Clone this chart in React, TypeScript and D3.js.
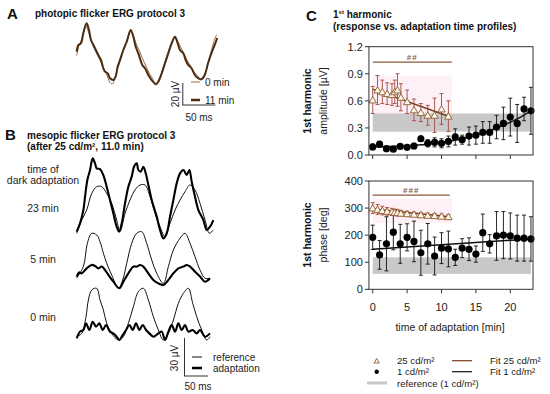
import React from "react";
import * as d3 from "d3";

const FONT = "'Liberation Sans', Arial, Helvetica, sans-serif";

// ---------------- Panel A: photopic flicker ERG (time ms, amplitude µV)
const traceA0min: [number, number][] = [
  [0, 4], [3, 12], [7, 18], [11, 27], [14, 31], [17, 27], [21, 19], [26, 11], [31, 5], [36, -1],
  [41, -8], [46, -14], [50, -20], [54, -22], [58, -16], [62, -8], [67, 1], [72, 11], [77, 19],
  [81, 26], [85, 23], [90, 15], [95, 8], [100, 1], [105, -6], [110, -12], [115, -17], [120, -23],
  [124, -20], [129, -11], [134, -1], [139, 8], [144, 16], [149, 20], [154, 16], [158, 11],
  [163, 5], [168, -1], [173, -6], [178, -11], [183, -14], [188, -18], [193, -15], [198, -5],
  [203, 6], [208, 17], [212, 23],
];
const traceA11min: [number, number][] = [
  [0, 7.5], [2.5, 13.6], [6.5, 15.2], [10, 24.3], [15, 33.4], [18.6, 27.3], [21.7, 18.2],
  [26.7, 12.1], [30.3, 7.5], [32.7, 4.5], [36.8, 0], [40.3, -7.5], [42.9, -10.6], [47, -12.1],
  [50.5, -16.6], [55.5, -18.2], [59, -15.2], [62, -6.1], [65.6, 0], [70.6, 9.1], [75.8, 16.6],
  [81.8, 27.3], [85.8, 21.2], [89.4, 12.1], [93.3, 6.1], [95.9, 1.5], [99.4, -4.5], [103.5, -7.5],
  [108.5, -13.6], [113.6, -18.2], [119.7, -21.8], [123.6, -19.7], [128.8, -12.1], [133.8, -3],
  [138.8, 6.1], [143.9, 15.2], [148.9, 21.2], [153, 15.2], [156.5, 9.1], [161.5, 6.1], [165, 0],
  [169, -4.5], [174, -7.5], [179, -13.6], [184, -16.6], [189, -17.5], [194, -13.6], [199, -3],
  [204, 6.1], [209, 13.6], [213, 20],
];

// ---------------- Panel B: mesopic flicker ERG (time ms, amplitude µV)
const b23Reference: [number, number][] = [
  [0, -1], [10.4, 9.4], [20.8, 17.3], [31.3, 30.4], [41.7, 35.7], [52.1, 35.7], [62.5, 30.4],
  [72.9, 22.6], [83.3, 9.4], [90.3, 0.3], [100.7, 14.7], [111.1, 25.2], [121.5, 33.1],
  [131.9, 37], [142.4, 37], [152.8, 27.8], [163.2, 14.7], [173.6, 4.2], [184, -3.7],
  [194.4, 6.8], [204.9, 17.3], [215.3, 25.2], [225.7, 31.8], [236.1, 37], [246.5, 33.1],
  [256.9, 22.6], [267.4, 9.4], [276.4, -1], [284.7, 1.6],
];
const b23Adaptation: [number, number][] = [
  [0, 0.3], [6.9, 6.8], [13.9, 17.3], [17.4, 27.8], [22.2, 40.9], [27.8, 48.8], [33.3, 58],
  [38.2, 54], [41.7, 50.1], [48.6, 49.5], [55.4, 44.9], [62.5, 35.7], [69.4, 25.2], [76.3, 14.7],
  [83.3, 4.2], [88.2, 0.3], [93.8, 6.8], [100.7, 22.6], [107.6, 35.7], [114.6, 43.6],
  [119.4, 51.4], [125, 54.1], [128.5, 48.8], [133.3, 47.5], [138.9, 51.4], [143.8, 46.2],
  [149.3, 37], [156.3, 25.2], [166.7, 12.1], [173.6, 1.6], [180.6, -5], [187.5, -1],
  [194.4, 12.1], [201.4, 25.2], [208.3, 38.3], [215.3, 46.2], [222.2, 48.8], [229.2, 44.9],
  [234.7, 48.8], [239.6, 39.6], [246.5, 27.8], [253.5, 17.3], [263.9, 9.4], [270.8, 1.6],
  [277.8, 4.2], [284.7, 9.4],
];
const b5Reference: [number, number][] = [
  [0, 8], [13.9, 17.1], [22.2, 35.4], [31.3, 43.3], [41.7, 42], [48.6, 36.7], [55.6, 27.6],
  [62.5, 19.7], [72.9, 10.5], [86.8, 0], [95.8, 6.6], [104.2, 19.7], [114.6, 35.4], [125, 43.3],
  [135.4, 44.6], [145.8, 35.4], [156.3, 22.3], [166.7, 11.8], [180.6, 3.9], [191, 17.1],
  [201.4, 30.2], [215.3, 39.4], [225.7, 43.3], [236.1, 35.4], [246.5, 24.9], [256.9, 14.4],
  [267.4, 7.9], [277.8, 7.9],
];
const b5Adaptation: [number, number][] = [
  [0, 9.2], [5, 12.5], [10.4, 11.8], [20.8, 15.7], [31.3, 18.4], [38.2, 17.6], [45.1, 15.7],
  [52.1, 17.1], [59, 14.4], [66, 10.5], [76.4, 5.2], [88.9, 0], [97.2, 5.2], [107.6, 11.8],
  [118.1, 17.1], [125, 17.1], [131.9, 18.4], [138.9, 17.1], [149.3, 11.8], [159.7, 6.6],
  [170.1, 3.9], [180.6, 2.6], [191, 6.6], [201.4, 11.8], [211.8, 15.7], [222.2, 17.1],
  [229.2, 18.4], [236.1, 17.1], [246.5, 13.1], [256.9, 9.2], [267.4, 5.2], [277.8, 7.9],
];
const b0Reference: [number, number][] = [
  [0, 2.6], [10.4, 5.2], [19.4, 18.4], [24.3, 31.5], [31.3, 39.4], [41.7, 40.7], [48.6, 31.5],
  [55.6, 23.6], [62.5, 13.1], [72.9, 5.2], [86.8, 0], [97.2, 2.6], [107.6, 13.1], [118.1, 26.2],
  [128.5, 38.1], [138.9, 40.7], [149.3, 31.5], [159.7, 18.4], [170.1, 7.9], [180.6, 0],
  [191, 5.2], [201.4, 15.7], [211.8, 28.9], [222.2, 36.7], [232.6, 40.7], [241.7, 28.9],
  [250, 18.4], [260.4, 7.9], [270.8, 0], [277.8, 2.6],
];
const b0Adaptation: [number, number][] = [
  [0, 1.3], [6.9, 6.6], [13.9, 7.9], [19.4, 13.1], [26.4, 7.9], [33.3, 14.4], [40.3, 10.5],
  [47.2, 13.1], [54.2, 7.9], [61.1, 11.8], [69.4, 6.6], [76.4, 5.2], [83.3, 2.6], [88.9, 0],
  [95.8, 3.9], [102.8, 7.9], [109.7, 11.8], [116.7, 7.9], [123.6, 13.1], [130.6, 7.9],
  [137.5, 11.8], [144.4, 7.9], [151.4, 5.2], [159.7, 2.6], [170.1, 5.2], [177.1, 6.6], [184, 0],
  [191, 6.6], [197.9, 11.8], [204.9, 6.6], [211.8, 13.1], [218.8, 7.9], [225.7, 11.8],
  [232.6, 6.6], [241.7, 7.9], [250, 5.2], [256.9, 7.9], [267.4, 2.6], [277.8, 5.2],
];
const groupLabelsB = ["23 min", "5 min", "0 min"];

// ---------------- Panel C: 1st harmonic
const time25 = [0, 0.7, 1.4, 2.1, 2.8, 3.2, 3.6, 4.1, 5, 6, 7, 8, 9, 10, 11];
const amp25 = [0.61, 0.72, 0.70, 0.68, 0.67, 0.70, 0.72, 0.64, 0.59, 0.50, 0.47, 0.44, 0.44, 0.51, 0.43];
const amp25Sd = [0.15, 0.16, 0.13, 0.12, 0.12, 0.13, 0.18, 0.15, 0.13, 0.12, 0.10, 0.11, 0.19, 0.17, 0.17];
const phase25 = [300, 295, 291, 288, 286, 284, 283, 281, 279, 277, 275, 273, 272, 270, 268];
const phase25Sd = [20, 18, 16, 14, 13, 12, 12, 10, 9, 8, 8, 8, 8, 8, 8];

const time1 = [0, 1, 2, 3, 4, 5, 6, 7, 8, 9, 10, 11, 12, 13, 14, 15, 16, 17, 18, 19, 20, 21, 22, 23];
const amp1 = [0.09, 0.12, 0.07, 0.065, 0.095, 0.085, 0.10, 0.18, 0.13, 0.14, 0.13, 0.15, 0.20, 0.17,
  0.21, 0.22, 0.25, 0.25, 0.31, 0.35, 0.42, 0.35, 0.51, 0.49];
const amp1Sd = [0.03, 0.03, 0.02, 0.02, 0.02, 0.02, 0.03, 0.03, 0.04, 0.05, 0.05, 0.06, 0.09, 0.05,
  0.10, 0.10, 0.12, 0.12, 0.13, 0.18, 0.21, 0.21, 0.13, 0.26];
const phase1 = [192, 127, 168, 211, 168, 192, 177, 135, 168, 123, 152, 149, 118, 152, 148, 130, 209,
  168, 197, 200, 197, 189, 189, 186];
const phase1Sd = [45, 53, 100, 65, 72, 50, 75, 83, 75, 70, 57, 66, 30, 35, 42, 30, 69, 34, 90, 87,
  85, 85, 85, 82];

const fitAmp25: [number, number][] = [[0, 0.73], [11, 0.43]];
const fitAmp1: [number, number][] = [[0, 0.09], [4, 0.1], [8, 0.12], [11, 0.15], [14, 0.2],
  [17, 0.27], [19, 0.33], [21, 0.4], [23, 0.49]];
const fitPhase25: [number, number][] = [[0, 297], [11.2, 268]];
const fitPhase1: [number, number][] = [[0, 148], [23, 186]];

const refAmp = [0.26, 0.46];
const refPhase = [57, 118];
const ampTicks = [0, 0.3, 0.6, 0.9, 1.2];
const phaseTicks = [0, 100, 200, 300, 400];
const timeTicks = [0, 5, 10, 15, 20];
const sigAmp = { from: 0, to: 11.5, level: 1.03, label: "##" };
const sigPhase = { from: 0, to: 11.2, level: 348, label: "###" };

const C_TRI_STROKE = "#8c5a2e";
const C_TRI_ERR = "#a54a3c";
const C_FIT25 = "#7a3a1c";
const C_SIG = "#8b5a3c";
const C_REF = "#c8c8c8";
const C_PINK = "#fbe4ee";

export default function App() {
  // ---- Panel A scales
  const xA = d3.scaleLinear().domain([0, 50]).range([76.7, 109.7]);
  const yA = d3.scaleLinear().domain([0, 20]).range([60, 38]);
  const lineA = d3.line<[number, number]>().x(d => xA(d[0])).y(d => yA(d[1])).curve(d3.curveCatmullRom);

  // ---- Panel B scales
  const xB = d3.scaleLinear().domain([0, 50]).range([76.7, 100.7]);
  const baseB = [232, 288.3, 340];
  const yBs = baseB.map(b => d3.scaleLinear().domain([0, 30]).range([b, b - 38.1]));
  const lineB = (ys: d3.ScaleLinear<number, number>) =>
    d3.line<[number, number]>().x(d => xB(d[0])).y(d => ys(d[1])).curve(d3.curveCatmullRom);
  const groupsB = [
    [b23Reference, b23Adaptation],
    [b5Reference, b5Adaptation],
    [b0Reference, b0Adaptation],
  ];
  const labelYB = [212, 263, 321];

  // ---- Panel C scales
  const xC = d3.scaleLinear().domain([0, 20]).range([372.7, 510.3]);
  const yAmp = d3.scaleLinear().domain([0, 1.2]).range([155, 46.7]);
  const yPh = d3.scaleLinear().domain([0, 400]).range([289.3, 181]);
  const left = xC(-0.55);
  const right = xC(23.3);

  const tri = d3.symbol(d3.symbolTriangle, 24)()!;
  const triLegend = d3.symbol(d3.symbolTriangle, 12)()!;

  const errBars = (xs: number[], vs: number[], sds: number[], ys: d3.ScaleLinear<number, number>, color: string, key: string) =>
    xs.map((t, i) => {
      const x = xC(t);
      const y1 = ys(Math.max(0, vs[i] - sds[i]));
      const y2 = ys(vs[i] + sds[i]);
      return (
        <g key={key + i} stroke={color} strokeWidth={0.9}>
          <line x1={x} x2={x} y1={y1} y2={y2} />
          <line x1={x - 2} x2={x + 2} y1={y1} y2={y1} />
          <line x1={x - 2} x2={x + 2} y1={y2} y2={y2} />
        </g>
      );
    });

  const fitLine = (ys: d3.ScaleLinear<number, number>, curve = d3.curveLinear) =>
    d3.line<[number, number]>().x(d => xC(d[0])).y(d => ys(d[1])).curve(curve);

  const plotC = (
    key: string,
    ys: d3.ScaleLinear<number, number>,
    ticks: number[],
    fmt: (v: number) => string,
    v25: number[], sd25: number[], v1: number[], sd1: number[],
    fit25: [number, number][], fit1: [number, number][], fit1Curve: d3.CurveFactory,
    ref: number[], pink: number[], sig: { from: number; to: number; level: number; label: string },
    showXLabels: boolean,
    titleLabel: string,
    centerY: number
  ) => {
    const top = ys(ys.domain()[1]);
    const bottom = ys(ys.domain()[0]);
    return (
      <g key={key}>
        <rect x={xC(0)} y={ys(pink[1])} width={xC(11.5) - xC(0)} height={ys(pink[0]) - ys(pink[1])} fill={C_PINK} opacity={0.55} />
        <rect x={xC(0)} y={ys(ref[1])} width={xC(23) - xC(0)} height={ys(ref[0]) - ys(ref[1])} fill={C_REF} />
        <line x1={xC(sig.from)} x2={xC(sig.to)} y1={ys(sig.level)} y2={ys(sig.level)} stroke={C_SIG} strokeWidth={1.3} />
        <text x={xC((sig.from + sig.to) / 2)} y={ys(sig.level) - 2.5} fontSize={8} fontWeight="bold" fill={C_SIG} textAnchor="middle" letterSpacing={1}>{sig.label}</text>
        {errBars(time1, v1, sd1, ys, "#111", key + "e1")}
        <path d={fitLine(ys, fit1Curve)(fit1)!} fill="none" stroke="#111" strokeWidth={1.5} />
        {time1.map((t, i) => <circle key={key + "c" + i} cx={xC(t)} cy={ys(v1[i])} r={3.6} fill="#000" />)}
        {errBars(time25, v25, sd25, ys, C_TRI_ERR, key + "e25")}
        <path d={fitLine(ys)(fit25)!} fill="none" stroke={C_FIT25} strokeWidth={1.5} />
        {time25.map((t, i) => (
          <path key={key + "t" + i} d={tri} transform={`translate(${xC(t)},${ys(v25[i]) + 0.8})`} fill="#fff8ec" stroke={C_TRI_STROKE} strokeWidth={0.9} />
        ))}
        <rect x={left} y={top} width={right - left} height={bottom - top} fill="none" stroke="#333" strokeWidth={1} />
        {ticks.map(v => (
          <g key={key + "yt" + v}>
            <line x1={left - 4} x2={left} y1={ys(v)} y2={ys(v)} stroke="#333" />
            <text x={left - 6} y={ys(v) + 4} fontSize={11} textAnchor="end" fill="#222">{fmt(v)}</text>
          </g>
        ))}
        {timeTicks.map(t => (
          <g key={key + "xt" + t}>
            <line x1={xC(t)} x2={xC(t)} y1={bottom} y2={bottom + 4} stroke="#333" />
            {showXLabels && <text x={xC(t)} y={bottom + 21.5} fontSize={11} textAnchor="middle" fill="#222">{t}</text>}
          </g>
        ))}
        <text transform={`translate(311,${centerY}) rotate(-90)`} fontSize={10.5} fontWeight="bold" textAnchor="middle" fill="#111">1st harmonic</text>
        <text transform={`translate(327,${centerY}) rotate(-90)`} fontSize={10.5} textAnchor="middle" fill="#222">{titleLabel}</text>
      </g>
    );
  };

  return (
    <svg width={550} height={394} style={{ position: "absolute", left: 0, top: 0, background: "#fff" }} fontFamily={FONT}>
      {/* ---------- Panel A ---------- */}
      <text x={7} y={18.5} fontSize={15} fontWeight="bold" fill="#111">A</text>
      <text x={35} y={16.5} fontSize={10} fontWeight="bold" fill="#111">photopic flicker ERG protocol 3</text>
      <path d={lineA(traceA0min)!} fill="none" stroke="#9a6a44" strokeWidth={1} />
      <path d={lineA(traceA11min)!} fill="none" stroke="#4a2c12" strokeWidth={2} />
      {/* scale bar A */}
      <line x1={xA(160) + 0.5} x2={xA(160) + 0.5} y1={yA(0) + 23} y2={yA(0) + 45} stroke="#333" />
      <line x1={xA(160)} x2={xA(210)} y1={yA(0) + 45} y2={yA(0) + 45} stroke="#333" />
      <text transform="translate(179,94) rotate(-90)" fontSize={10} textAnchor="middle" fill="#222">20 µV</text>
      <text x={199} y={121} fontSize={10} textAnchor="middle" fill="#222">50 ms</text>
      <line x1={191} x2={200} y1={82} y2={82} stroke="#9a6a44" strokeWidth={1} />
      <line x1={191} x2={200} y1={100} y2={100} stroke="#4a2c12" strokeWidth={2.5} />
      <text x={205} y={85.5} fontSize={10} fill="#222">0 min</text>
      <text x={205} y={103.5} fontSize={10} fill="#222">11 min</text>

      {/* ---------- Panel B ---------- */}
      <text x={5} y={140} fontSize={15} fontWeight="bold" fill="#111">B</text>
      <text x={27} y={139} fontSize={10} fontWeight="bold" fill="#111">mesopic flicker ERG protocol 3</text>
      <text x={27} y={150} fontSize={10} fontWeight="bold" fill="#111">(after 25 cd/m², 11.0 min)</text>
      <text x={43} y={173} fontSize={10.5} textAnchor="middle" fill="#222">time of</text>
      <text x={43} y={184} fontSize={10.5} textAnchor="middle" fill="#222">dark adaptation</text>
      {groupsB.map((g, i) => (
        <g key={"gb" + i}>
          <path d={lineB(yBs[i])(g[0])!} fill="none" stroke="#111" strokeWidth={1} />
          <path d={lineB(yBs[i])(g[1])!} fill="none" stroke="#000" strokeWidth={2.1} />
          <text x={43} y={labelYB[i]} fontSize={10.5} textAnchor="middle" fill="#222">{groupLabelsB[i]}</text>
        </g>
      ))}
      {/* scale bar B */}
      <line x1={184.5} x2={184.5} y1={yBs[2](0) + 36} y2={yBs[2](0) - 2.1} stroke="#333" />
      <line x1={184} x2={184 + (xB(50) - xB(0))} y1={yBs[2](0) + 36} y2={yBs[2](0) + 36} stroke="#333" />
      <text transform="translate(178,358) rotate(-90)" fontSize={10} textAnchor="middle" fill="#222">30 µV</text>
      <text x={198} y={390} fontSize={10} textAnchor="middle" fill="#222">50 ms</text>
      <line x1={192} x2={202} y1={357} y2={357} stroke="#111" strokeWidth={1} />
      <line x1={192} x2={202} y1={368} y2={368} stroke="#000" strokeWidth={2.5} />
      <text x={213} y={360.5} fontSize={10} fill="#222">reference</text>
      <text x={213} y={371.5} fontSize={10} fill="#222">adaptation</text>

      {/* ---------- Panel C ---------- */}
      <text x={306} y={21} fontSize={15} fontWeight="bold" fill="#111">C</text>
      <text x={333} y={18} fontSize={10} fontWeight="bold" fill="#111">1<tspan fontSize={6} dy={-4}>st</tspan><tspan dy={4}> harmonic</tspan></text>
      <text x={333} y={30} fontSize={10} fontWeight="bold" fill="#111">(response vs. adaptation time profiles)</text>
      {plotC("amp", yAmp, ampTicks, d3.format(".1f"), amp25, amp25Sd, amp1, amp1Sd, fitAmp25, fitAmp1,
        d3.curveMonotoneX, refAmp, [0.25, 0.88], sigAmp, false, "amplitude [µV]", 101)}
      {plotC("ph", yPh, phaseTicks, d3.format("d"), phase25, phase25Sd, phase1, phase1Sd, fitPhase25, fitPhase1,
        d3.curveLinear, refPhase, [245, 335], sigPhase, true, "phase [deg]", 235)}
      <text x={450} y={331} fontSize={10.5} textAnchor="middle" fill="#222">time of adaptation [min]</text>

      {/* legend C */}
      <path d={triLegend} transform="translate(376.7,361.5)" fill="#fff8ec" stroke={C_TRI_STROKE} strokeWidth={0.9} />
      <text x={397} y={364} fontSize={9.6} fill="#222">25 cd/m²</text>
      <line x1={452} x2={472} y1={360.7} y2={360.7} stroke={C_FIT25} strokeWidth={1.2} />
      <text x={490} y={364} fontSize={9.6} fill="#222">Fit 25 cd/m²</text>
      <circle cx={376.7} cy={371.7} r={2.2} fill="#000" />
      <text x={397} y={375} fontSize={9.6} fill="#222">1 cd/m²</text>
      <line x1={452} x2={472} y1={371.7} y2={371.7} stroke="#111" strokeWidth={1.2} />
      <text x={490} y={375} fontSize={9.6} fill="#222">Fit 1 cd/m²</text>
      <line x1={367} x2={387} y1={383} y2={383} stroke={C_REF} strokeWidth={3} />
      <text x={397} y={386.5} fontSize={9.6} fill="#222">reference (1 cd/m²)</text>
    </svg>
  );
}
